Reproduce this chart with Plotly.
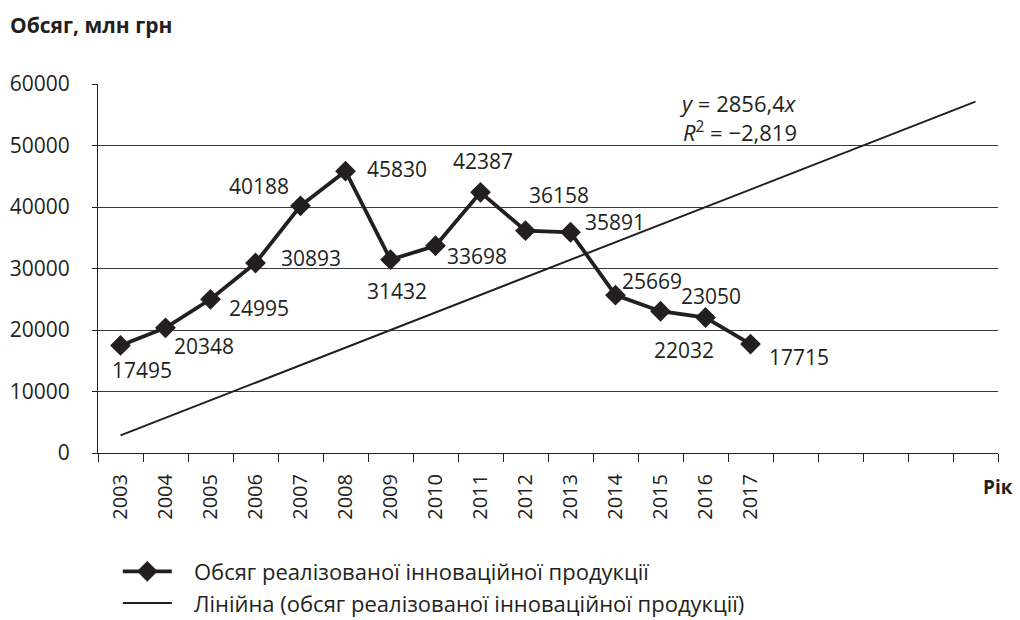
import plotly.graph_objects as go

# ---- data ----
years = ["2003", "2004", "2005", "2006", "2007", "2008", "2009", "2010",
         "2011", "2012", "2013", "2014", "2015", "2016", "2017"]
volume = [17495, 20348, 24995, 30893, 40188, 45830, 31432, 33698,
          42387, 36158, 35891, 25669, 23050, 22032, 17715]
extra_slots = [" ", "  ", "   ", "    ", "     "]  # empty forecast periods on the axis
trend_slope = 2856.4
trend_r2 = "−2,819"
series_name = "Обсяг реалізованої інноваційної продукції"
trend_name = "Лінійна (обсяг реалізованої інноваційної продукції)"

categories = years + extra_slots
n_cat = len(categories)
trend_x = [categories[0], categories[-1]]
trend_y = [trend_slope * 1, trend_slope * n_cat]

# label offsets (px) for data labels: (xshift, yshift)
label_offsets = [(21, -25), (38, -18), (48, -9), (55, 5), (-42, 20), (51, 2),
                 (6, -31), (41, -10), (2, 31), (33, 36), (44, 10), (36, 14),
                 (50, 15), (-22, -32), (48, -13)]

FONT = "Open Sans"
INK = "#231f20"
PAD = "\u00a0\u00a0\u00a0"

fig = go.Figure()
fig.add_trace(go.Scatter(
    x=years, y=volume, mode="lines+markers",
    name=PAD + series_name,
    line=dict(color=INK, width=3.8),
    marker=dict(symbol="diamond", size=16, color=INK),
))
fig.add_trace(go.Scatter(
    x=trend_x, y=trend_y, mode="lines",
    name=PAD + trend_name,
    line=dict(color=INK, width=2),
))

annotations = []
for i, (v, (dx, dy)) in enumerate(zip(volume, label_offsets)):
    annotations.append(dict(x=i, y=v, xref="x", yref="y", text=str(v),
                            showarrow=False, xshift=dx, yshift=dy,
                            xanchor="center", yanchor="middle",
                            font=dict(family=FONT, size=21, color=INK)))

annotations += [
    dict(xref="paper", yref="paper", x=0.779, y=0.948, yanchor="middle",
         text=f"<i>y</i> = {str(trend_slope).replace('.', ',')}<i>x</i>",
         showarrow=False, font=dict(family=FONT, size=22, color=INK)),
    dict(xref="paper", yref="paper", x=0.779, y=0.870, yanchor="middle",
         text=f"<i>R</i><sup>2</sup> = {trend_r2}",
         showarrow=False, font=dict(family=FONT, size=22, color=INK)),
    dict(xref="paper", yref="paper", x=-0.1, y=1.16, xanchor="left",
         yanchor="middle", text="<b>Обсяг, млн грн</b>", showarrow=False,
         font=dict(family=FONT, size=21, color=INK)),
    dict(xref="paper", yref="paper", x=1.019, y=-0.092, xanchor="right",
         yanchor="middle", text="<b>Рік</b>", showarrow=False,
         font=dict(family=FONT, size=19, color=INK)),
]

fig.update_layout(
    width=1020, height=620,
    margin=dict(l=98, r=22, t=84, b=167, autoexpand=False),
    paper_bgcolor="white", plot_bgcolor="white",
    font=dict(family=FONT, size=21, color=INK),
    annotations=annotations,
    showlegend=True,
    legend=dict(x=0.022, xref="paper", y=0.112, yref="container",
                xanchor="left", yanchor="top", itemwidth=49,
                font=dict(family=FONT, size=22, color=INK),
                bgcolor="rgba(0,0,0,0)", tracegroupgap=0),
)
fig.update_xaxes(
    type="category", categoryorder="array", categoryarray=categories,
    range=[-0.5, n_cat - 0.5], automargin=False,
    tickson="boundaries", ticks="outside", ticklen=8, tickwidth=1,
    tickcolor=INK, showline=True, linecolor=INK, linewidth=1,
    showgrid=False, tickangle=-90, ticklabelstandoff=12,
    tickfont=dict(family=FONT, size=20, color=INK),
)
fig.update_yaxes(
    range=[0, 60000], dtick=10000, tickformat="d", automargin=False,
    showgrid=True, gridcolor="#3a3a3a", gridwidth=1,
    showline=True, linecolor=INK, linewidth=1,
    ticks="outside", ticklen=5, tickcolor=INK, ticklabelstandoff=18,
    tickfont=dict(family=FONT, size=21, color=INK), zeroline=False,
)

fig.write_html("out.html", config={"displayModeBar": False},
               post_script="document.body.style.margin='0';document.body.style.padding='0';")
